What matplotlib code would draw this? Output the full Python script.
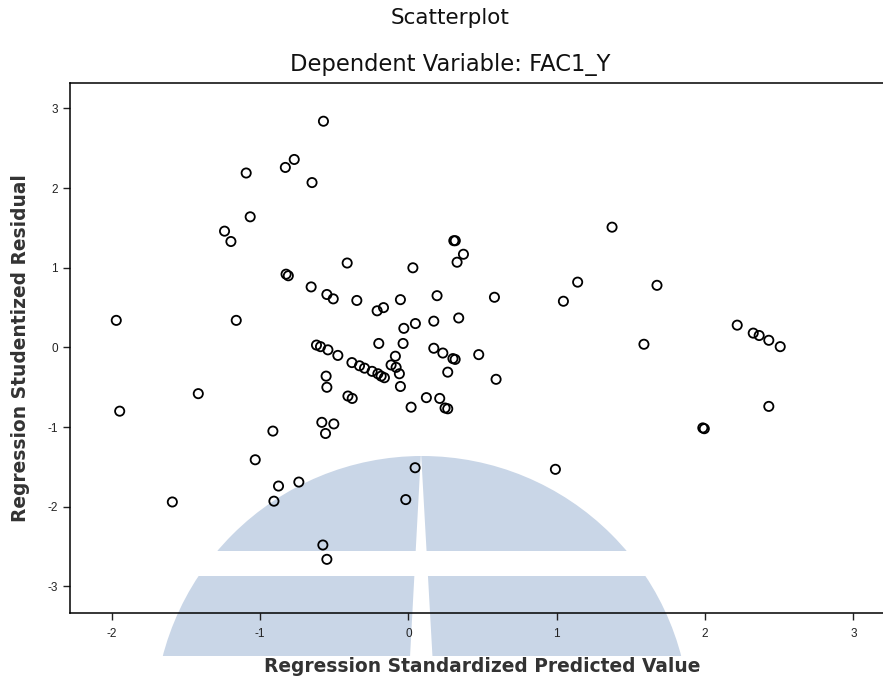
import numpy as np
import matplotlib
matplotlib.use("Agg")
import matplotlib.pyplot as plt
from matplotlib.patches import Circle, Rectangle, Polygon

plt.rcParams["axes.unicode_minus"] = False

# regression standardized predicted value (x) vs studentized residual (y)
pred = [-1.97, -0.573, -0.83, -0.77, -1.094, -0.65, -1.067, -1.24, -1.197, -0.825,
        -0.81, -1.161, -0.413, 0.03, -0.656, -0.55, -0.507, -0.348, -0.211, -0.168,
        -0.054, 0.193, 0.171, 0.047, -0.031, -0.2, -0.036, 0.171, 0.232, -0.62,
        -0.593, -0.543, -0.476, -0.381, -0.33, -0.296, -0.245, -0.206, -0.184, -0.162,
        -0.088, -0.117, -0.083, -0.061, -0.054, -0.555, -0.55, -0.408, -0.379, 0.018,
        0.121, 0.211, 0.247, 0.265, 0.265, 0.591, 0.30, 0.315, 0.474, 0.306,
        0.316, 0.371, 0.328, 1.373, 0.58, 1.141, 1.045, 1.676, 0.339, 2.217,
        2.325, 2.365, 2.43, 2.507, 1.588, -1.947, -1.417, -0.584, -0.503, -0.559,
        -0.914, -1.033, -0.739, -0.876, -0.907, -1.592, 0.045, -0.018, -0.577, -0.55,
        2.43, 1.985, 1.995, 0.991]
resid = [0.34, 2.84, 2.26, 2.36, 2.19, 2.07, 1.64, 1.46, 1.33, 0.92,
         0.90, 0.34, 1.06, 1.0, 0.76, 0.665, 0.61, 0.59, 0.46, 0.50,
         0.60, 0.65, 0.33, 0.30, 0.24, 0.05, 0.05, -0.01, -0.07, 0.03,
         0.01, -0.03, -0.10, -0.19, -0.23, -0.26, -0.30, -0.33, -0.36, -0.38,
         -0.11, -0.22, -0.25, -0.33, -0.49, -0.36, -0.50, -0.61, -0.64, -0.75,
         -0.63, -0.64, -0.76, -0.77, -0.31, -0.40, -0.14, -0.15, -0.09, 1.34,
         1.34, 1.17, 1.07, 1.51, 0.63, 0.82, 0.58, 0.78, 0.37, 0.28,
         0.18, 0.15, 0.09, 0.01, 0.04, -0.80, -0.58, -0.94, -0.96, -1.08,
         -1.05, -1.41, -1.69, -1.74, -1.93, -1.94, -1.51, -1.91, -2.48, -2.66,
         -0.74, -1.01, -1.02, -1.53]

xticks = [-2, -1, 0, 1, 2, 3]
yticks = [-3, -2, -1, 0, 1, 2, 3]

W, H = 883, 678
fig = plt.figure(figsize=(W / 100, H / 100), dpi=100)

# watermark behind the plot, in pixel coords
bg = fig.add_axes([0, 0, 1, 1], zorder=0)
bg.set_xlim(0, W)
bg.set_ylim(H, 0)
bg.axis("off")
wm = "#c9d6e7"
clip = Rectangle((0, 455), W, 201, transform=bg.transData)
dome = Circle((422, 724), 268, color=wm, lw=0)
bg.add_patch(dome)
dome.set_clip_path(clip)
bg.add_patch(Rectangle((0, 551), W, 25, color="white", lw=0))
bg.add_patch(Polygon([(421, 452), (410, 657), (432.5, 657)], closed=True,
                     color="white", lw=0))

ax = fig.add_axes([70.3 / W, 1 - 612.7 / H, 1 - 70.3 / W, (612.7 - 83) / H], zorder=1)
ax.patch.set_alpha(0)
ax.scatter(pred, resid, s=44, facecolors="none", edgecolors="black", linewidths=1.3)

ax.set_xlim(-2.28, 3.2)
ax.set_ylim(-3.33, 3.32)
ax.set_xticks(xticks)
ax.set_yticks(yticks)
ax.spines["right"].set_visible(False)
for s in ["left", "bottom", "top"]:
    ax.spines[s].set_linewidth(1.1)
ax.tick_params(length=5, width=1, labelsize=8.5, colors="#222222")
ax.tick_params(axis="x", pad=6)
ax.tick_params(axis="y", pad=4)
for lab in ax.get_xticklabels() + ax.get_yticklabels():
    lab.set_family("Liberation Sans")

ax.set_xlabel("Regression Standardized Predicted Value", fontsize=13.4,
              fontweight="bold", color="#333333")
ax.xaxis.set_label_coords(0.507, -0.083)
ax.set_ylabel("Regression Studentized Residual", fontsize=13.4,
              fontweight="bold", color="#333333")
ax.yaxis.set_label_coords(-0.05, 0.5)

fig.text(450 / W, 1 - 18 / H, "Scatterplot", ha="center", va="center",
         fontsize=15.5, color="#111111")
fig.text(450 / W, 1 - 65 / H, "Dependent Variable: FAC1_Y", ha="center", va="center",
         fontsize=16.3, color="#111111")

fig.savefig("out.png", dpi=100)
